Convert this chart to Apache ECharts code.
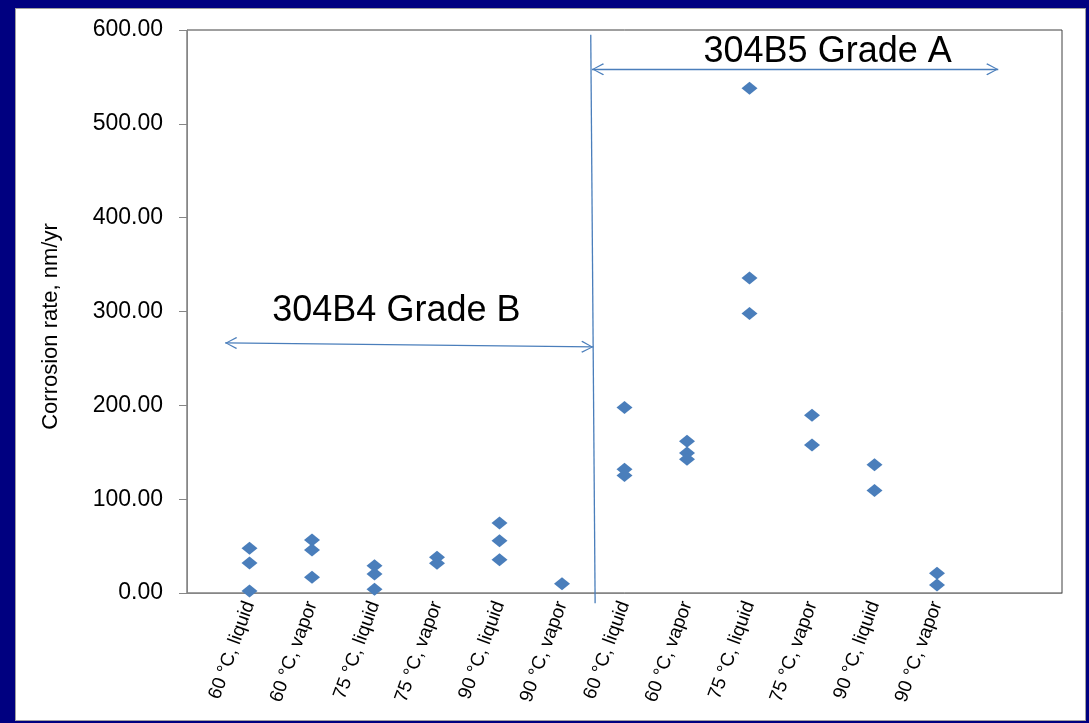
<!DOCTYPE html>
<html><head><meta charset="utf-8">
<script src="https://cdn.jsdelivr.net/npm/echarts@6/dist/echarts.min.js"></script>
<style>
html,body{margin:0;padding:0;background:#000080;width:1089px;height:723px;overflow:hidden}
#panel{position:absolute;left:15px;top:8px;width:1071px;height:713px;background:#fff;box-sizing:border-box;border:1px solid #a0a0a0}
#chart{position:absolute;left:0;top:0;width:1089px;height:723px}
</style></head><body><div id="panel"></div><div id="chart"></div>
<script>
// x-axis category labels (positions 1..12 on the x scale)
const categories = ['60 °C, liquid', '60 °C, vapor', '75 °C, liquid', '75 °C, vapor', '90 °C, liquid', '90 °C, vapor',
                    '60 °C, liquid', '60 °C, vapor', '75 °C, liquid', '75 °C, vapor', '90 °C, liquid', '90 °C, vapor'];
// corrosion rates (nm/yr), one list per category
const grade304B4 = [[47.6, 31.9, 2.1], [56.5, 45.8, 16.7], [29.1, 20.2, 3.9], [38.0, 31.6], [74.6, 55.7, 35.5], [9.9]];
const grade304B5 = [[197.7, 132.0, 125.3], [161.6, 149.3, 142.5], [538.0, 335.8, 297.8], [189.3, 157.7], [136.8, 109.3], [21.0, 8.5]];
const yTicks = [0, 100, 200, 300, 400, 500, 600];
// annotation geometry in data units
const dividerLine = [[6.46, 595], [6.53, -11]];
const arrowB = [[0.61, 266.5], [6.5, 262.2]];
const arrowA = [[6.48, 558.2], [12.98, 558.2]];
const annotationTexts = [{ text: '304B4 Grade B', at: [3.35, 300.5] }, { text: '304B5 Grade A', at: [10.25, 576.6] }];

const blue = '#4a7ebb';
const points = [];
grade304B4.forEach((vals, i) => vals.forEach(v => points.push([i + 1, v])));
grade304B5.forEach((vals, i) => vals.forEach(v => points.push([i + 1 + grade304B4.length, v])));

const chevron = 'path://M6,0 L6,0 Z M6,12 L12,23 L11,24 L6,14 L1,24 L0,23 Z';

const chart = echarts.init(document.getElementById('chart'), null, { renderer: 'canvas' });
chart.setOption({
  backgroundColor: 'transparent',
  animation: false,
  textStyle: { fontFamily: 'Liberation Sans, Arial, sans-serif' },
  grid: { left: 187, top: 30, width: 875, height: 563, show: true, borderColor: '#404040', borderWidth: 1, backgroundColor: '#fff' },
  xAxis: {
    type: 'value', min: 0, max: 14, interval: 1,
    axisLine: { show: true, lineStyle: { color: '#868686', width: 1 } },
    axisTick: { show: false },
    splitLine: { show: false },
    axisLabel: {
      rotate: 70, margin: 9, fontSize: 19, color: '#000',
      formatter: v => categories[v - 1] || ''
    }
  },
  yAxis: {
    type: 'value', min: yTicks[0], max: yTicks[yTicks.length - 1], interval: 100,
    name: 'Corrosion rate, nm/yr', nameLocation: 'middle', nameGap: 125, nameRotate: 90,
    nameTextStyle: { fontSize: 22, color: '#000', padding: [0, 30, 0, 0] },
    axisLine: { show: true, lineStyle: { color: '#868686', width: 1 } },
    axisTick: { show: true, length: 8, lineStyle: { color: '#868686' } },
    splitLine: { show: false },
    axisLabel: { margin: 24, fontSize: 23, color: '#000', formatter: v => v.toFixed(2) }
  },
  series: [{
    type: 'line',
    clip: false,
    silent: true,
    showSymbol: false,
    symbol: 'none',
    lineStyle: { color: blue, width: 1.3 },
    data: dividerLine,
    z: 1
  }, {
    type: 'scatter',
    clip: false,
    symbol: 'diamond',
    symbolSize: [16, 13],
    itemStyle: { color: blue, opacity: 1 },
    data: points,
    z: 3,
    markLine: {
      silent: true,
      animation: false,
      lineStyle: { color: blue, width: 1.3, type: 'solid' },
      label: { show: false },
      symbol: ['none', 'none'],
      data: [
        [{ coord: arrowB[0], symbol: chevron, symbolSize: [12, 24] }, { coord: arrowB[1], symbol: chevron, symbolSize: [12, 24] }],
        [{ coord: arrowA[0], symbol: chevron, symbolSize: [12, 24] }, { coord: arrowA[1], symbol: chevron, symbolSize: [12, 24] }]
      ]
    },
    markPoint: {
      silent: true,
      symbol: 'circle', symbolSize: 1,
      itemStyle: { color: 'rgba(0,0,0,0)' },
      label: { show: true, position: 'inside', fontSize: 36, color: '#000', formatter: p => p.name },
      data: annotationTexts.map(a => ({ name: a.text, coord: a.at }))
    }
  }]
});
</script></body></html>
